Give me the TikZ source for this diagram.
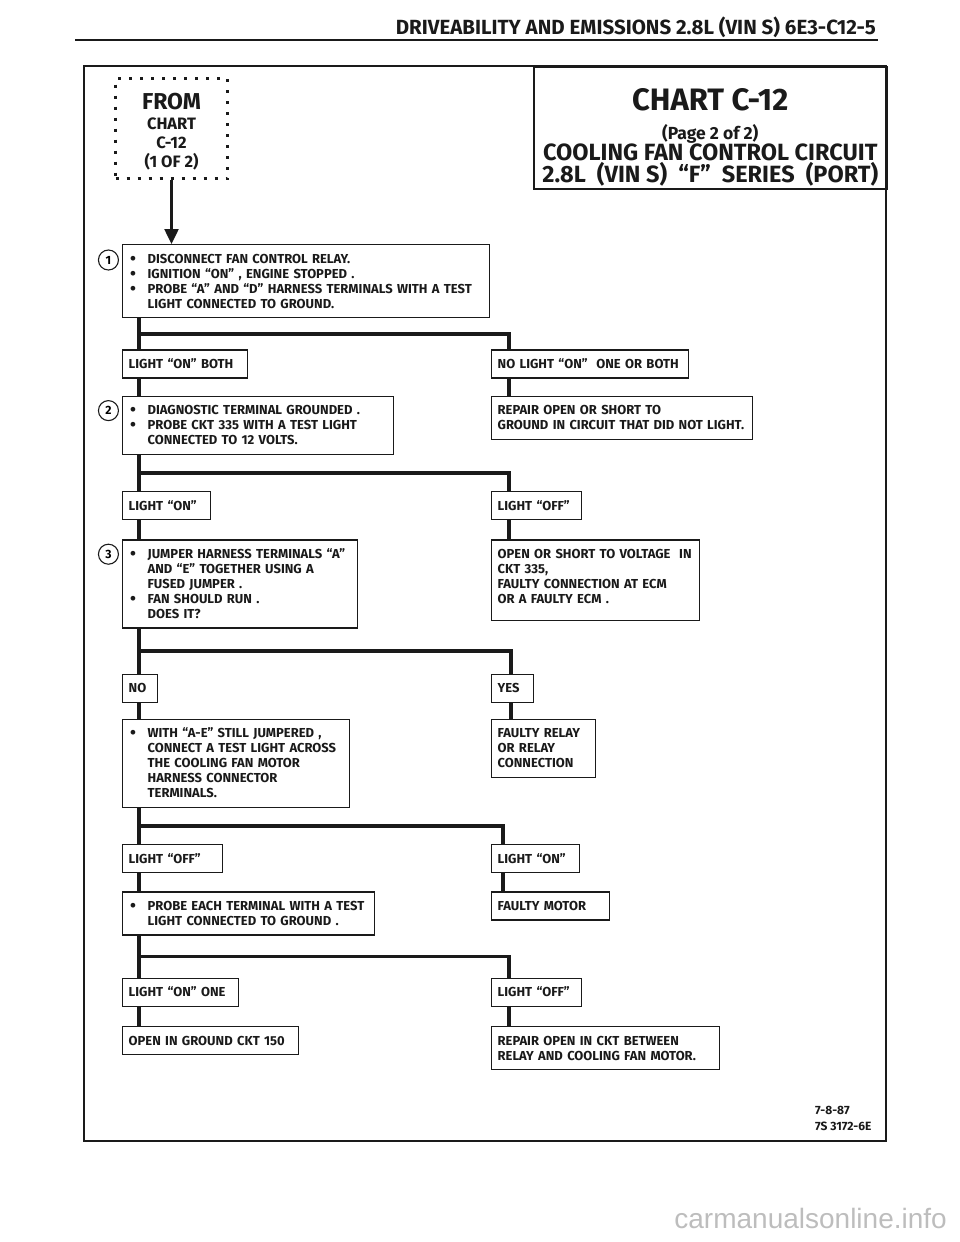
\documentclass[tikz,border=0pt]{standalone}
\usepackage{fontspec}
\setmainfont{Fira Sans}
\newfontfamily\condfont{Fira Sans}
\newfontfamily\markfont{Liberation Sans}
\usetikzlibrary{arrows.meta,positioning,calc}
\usepackage{xcolor}
\definecolor{cink}{HTML}{1A1A1A}
\definecolor{cwater}{HTML}{BDBDBD}

\newcommand{\bitem}{\makebox[19pt][l]{\hspace{1.5pt}\raisebox{-0.9pt}{\fontsize{17}{15}\selectfont\textbullet}}}
\newcommand{\bcont}{\hspace*{19pt}}

\tikzset{
  stepbox/.style={draw=cink, line width=1.3pt, anchor=north west, align=left,
    inner xsep=6pt, inner ysep=7pt, text=cink,
    font=\fontsize{13}{15}\selectfont\bfseries,
    execute at begin node={\rule{0pt}{11.5pt}},
    execute at end node={\rule[-2.5pt]{0pt}{2.5pt}}},
  wire/.style={draw=cink, line width=3.5pt},
  numcirc/.style={draw=cink, circle, line width=1.1pt, inner sep=0pt,
    minimum size=20pt, font=\fontsize{12}{12}\selectfont\bfseries}
}

\begin{document}
\begin{tikzpicture}[x=1pt, y=-1pt]
  \useasboundingbox (0,0) rectangle (960,1242);

  % page head and frame
  \node[anchor=base east, inner sep=0pt, text=cink,
        font=\condfont\fontsize{20.5}{21}\selectfont\bfseries] (head) at (876,34)
        {DRIVEABILITY AND EMISSIONS 2.8L (VIN S) 6E3-C12-5};
  \draw[cink, line width=2.5pt] (75,40) -- (878,40);
  \draw[cink, line width=2.4pt] (84,66) rectangle (886,1141);

  \node[draw=cink, line width=1.5pt, anchor=north west, minimum width=353pt,
        minimum height=122pt, align=center, inner sep=0pt, text=cink,
        font=\condfont\fontsize{23.5}{21.5}\selectfont\bfseries] (title) at (533,66)
        {\rule{0pt}{41pt}{\fontsize{31}{32}\selectfont CHART C-12}\\[7pt]
         {\fontsize{17.5}{20}\selectfont (Page 2 of 2)}\\
         COOLING FAN CONTROL CIRCUIT\\
         2.8L~ (VIN S)~ “F”~ SERIES~ (PORT)};

  \node[draw=cink, line width=3pt, dash pattern=on 3pt off 8pt,
        anchor=north west, minimum width=112pt, minimum height=100pt,
        align=center, inner sep=0pt, text=cink,
        font=\fontsize{16.5}{19}\selectfont\bfseries] (from) at (114,77)
        {\rule{0pt}{22pt}{\fontsize{23}{24}\selectfont FROM}\\[1pt]
         CHART\\ C-12\\ (1 OF 2)};

  % left column
  \node[stepbox, text width=355pt] (s1) at (122,244)
    {\bitem DISCONNECT FAN CONTROL RELAY.\\
     \bitem IGNITION “ON” , ENGINE STOPPED .\\
     \bitem PROBE “A” AND “D” HARNESS TERMINALS WITH A TEST\\
     \bcont LIGHT CONNECTED TO GROUND.};
  \node[numcirc, left=3pt of s1.north west, yshift=-16pt] (n1) {1};
  \node[stepbox, text width=113pt, below=31pt of s1.south west, anchor=north west] (l1on)
    {LIGHT “ON” BOTH};
  \node[stepbox, text width=259pt, below=17pt of l1on.south west, anchor=north west] (s2)
    {\bitem DIAGNOSTIC TERMINAL GROUNDED .\\
     \bitem PROBE CKT 335 WITH A TEST LIGHT\\
     \bcont CONNECTED TO 12 VOLTS.};
  \node[numcirc, left=3pt of s2.north west, yshift=-15pt] (n2) {2};
  \node[stepbox, text width=76pt, below=36pt of s2.south west, anchor=north west] (l2on)
    {LIGHT “ON”};
  \node[stepbox, text width=223pt, below=19pt of l2on.south west, anchor=north west] (s3)
    {\bitem JUMPER HARNESS TERMINALS “A”\\
     \bcont AND “E” TOGETHER USING A\\
     \bcont FUSED JUMPER .\\
     \bitem FAN SHOULD RUN .\\
     \bcont DOES IT?};
  \node[numcirc, left=3pt of s3.north west, yshift=-15pt] (n3) {3};
  \node[stepbox, text width=23pt, below=45pt of s3.south west, anchor=north west] (l3no)
    {NO};
  \node[stepbox, text width=215pt, below=16pt of l3no.south west, anchor=north west] (s4)
    {\bitem WITH “A-E” STILL JUMPERED ,\\
     \bcont CONNECT A TEST LIGHT ACROSS\\
     \bcont THE COOLING FAN MOTOR\\
     \bcont HARNESS CONNECTOR\\
     \bcont TERMINALS.};
  \node[stepbox, text width=88pt, below=36pt of s4.south west, anchor=north west] (l4off)
    {LIGHT “OFF”};
  \node[stepbox, text width=240pt, below=18pt of l4off.south west, anchor=north west] (s5)
    {\bitem PROBE EACH TERMINAL WITH A TEST\\
     \bcont LIGHT CONNECTED TO GROUND .};
  \node[stepbox, text width=104pt, below=42pt of s5.south west, anchor=north west] (l5on)
    {LIGHT “ON” ONE};
  \node[stepbox, text width=164pt, below=19pt of l5on.south west, anchor=north west] (e5)
    {OPEN IN GROUND CKT 150};

  % right column
  \coordinate (rcol) at (491,0);
  \node[stepbox, text width=185pt] (r1) at (l1on.north west -| rcol)
    {NO LIGHT “ON”~ ONE OR BOTH};
  \node[stepbox, text width=249pt] (e1) at (s2.north west -| rcol)
    {REPAIR OPEN OR SHORT TO\\
     GROUND IN CIRCUIT THAT DID NOT LIGHT.};
  \node[stepbox, text width=78pt] (r2) at (l2on.north west -| rcol)
    {LIGHT “OFF”};
  \node[stepbox, text width=196pt] (e2) at (s3.north west -| rcol)
    {OPEN OR SHORT TO VOLTAGE~ IN\\
     CKT 335,\\
     FAULTY CONNECTION AT ECM\\
     OR A FAULTY ECM .\rule[-10pt]{0pt}{10pt}};
  \node[stepbox, text width=30pt] (r3) at (l3no.north west -| rcol)
    {YES};
  \node[stepbox, text width=92pt] (e3) at (s4.north west -| rcol)
    {FAULTY RELAY\\
     OR RELAY\\
     CONNECTION};
  \node[stepbox, text width=76pt] (r4) at (l4off.north west -| rcol)
    {LIGHT “ON”};
  \node[stepbox, text width=106pt] (e4) at (s5.north west -| rcol)
    {FAULTY MOTOR};
  \node[stepbox, text width=78pt] (r5) at (l5on.north west -| rcol)
    {LIGHT “OFF”};
  \node[stepbox, text width=216pt] (e6) at (e5.north west -| rcol)
    {REPAIR OPEN IN CKT BETWEEN\\
     RELAY AND COOLING FAN MOTOR.};

  % entry arrow
  \draw[cink, line width=2.5pt, -{Triangle[width=14pt,length=15pt]}]
    (from.south) -- (from.south |- s1.north);

  % left trunk
  \draw[wire] ([xshift=17pt]s1.south west) -- ([xshift=17pt]l1on.north west);
  \draw[wire] ([xshift=17pt]l1on.south west) -- ([xshift=17pt]s2.north west);
  \draw[wire] ([xshift=17pt]s2.south west) -- ([xshift=17pt]l2on.north west);
  \draw[wire] ([xshift=17pt]l2on.south west) -- ([xshift=17pt]s3.north west);
  \draw[wire] ([xshift=17pt]s3.south west) -- ([xshift=17pt]l3no.north west);
  \draw[wire] ([xshift=17pt]l3no.south west) -- ([xshift=17pt]s4.north west);
  \draw[wire] ([xshift=17pt]s4.south west) -- ([xshift=17pt]l4off.north west);
  \draw[wire] ([xshift=17pt]l4off.south west) -- ([xshift=17pt]s5.north west);
  \draw[wire] ([xshift=17pt]s5.south west) -- ([xshift=17pt]l5on.north west);
  \draw[wire] ([xshift=17pt]l5on.south west) -- ([xshift=17pt]e5.north west);

  % branches to the right
  \draw[wire] ($([xshift=17pt]s1.south west)!.5!([xshift=17pt]l1on.north west)$)
    -| ([xshift=18pt]r1.north west);
  \draw[wire] ([xshift=18pt]r1.south west) -- ([xshift=18pt]e1.north west);
  \draw[wire] ($([xshift=17pt]s2.south west)!.5!([xshift=17pt]l2on.north west)$)
    -| ([xshift=18pt]r2.north west);
  \draw[wire] ([xshift=18pt]r2.south west) -- ([xshift=18pt]e2.north west);
  \draw[wire] ($([xshift=17pt]s3.south west)!.5!([xshift=17pt]l3no.north west)$)
    -| ([xshift=20pt]r3.north west);
  \draw[wire] ([xshift=20pt]r3.south west) -- ([xshift=20pt]e3.north west);
  \draw[wire] ($([xshift=17pt]s4.south west)!.5!([xshift=17pt]l4off.north west)$)
    -| ([xshift=12pt]r4.north west);
  \draw[wire] ([xshift=12pt]r4.south west) -- ([xshift=12pt]e4.north west);
  \draw[wire] ($([xshift=17pt]s5.south west)!.5!([xshift=17pt]l5on.north west)$)
    -| ([xshift=18pt]r5.north west);
  \draw[wire] ([xshift=18pt]r5.south west) -- ([xshift=18pt]e6.north west);

  % stamp and watermark
  \node[anchor=north west, align=left, inner sep=0pt, text=cink,
        font=\fontsize{12}{16}\selectfont\bfseries] (stamp) at (815,1106)
        {7-8-87\\7S 3172-6E};
  \node[anchor=base east, inner sep=0pt, text=cwater,
        font=\markfont\fontsize{28}{30}\selectfont] (mark) at (947,1228)
        {carmanualsonline.info};
\end{tikzpicture}
\end{document}
